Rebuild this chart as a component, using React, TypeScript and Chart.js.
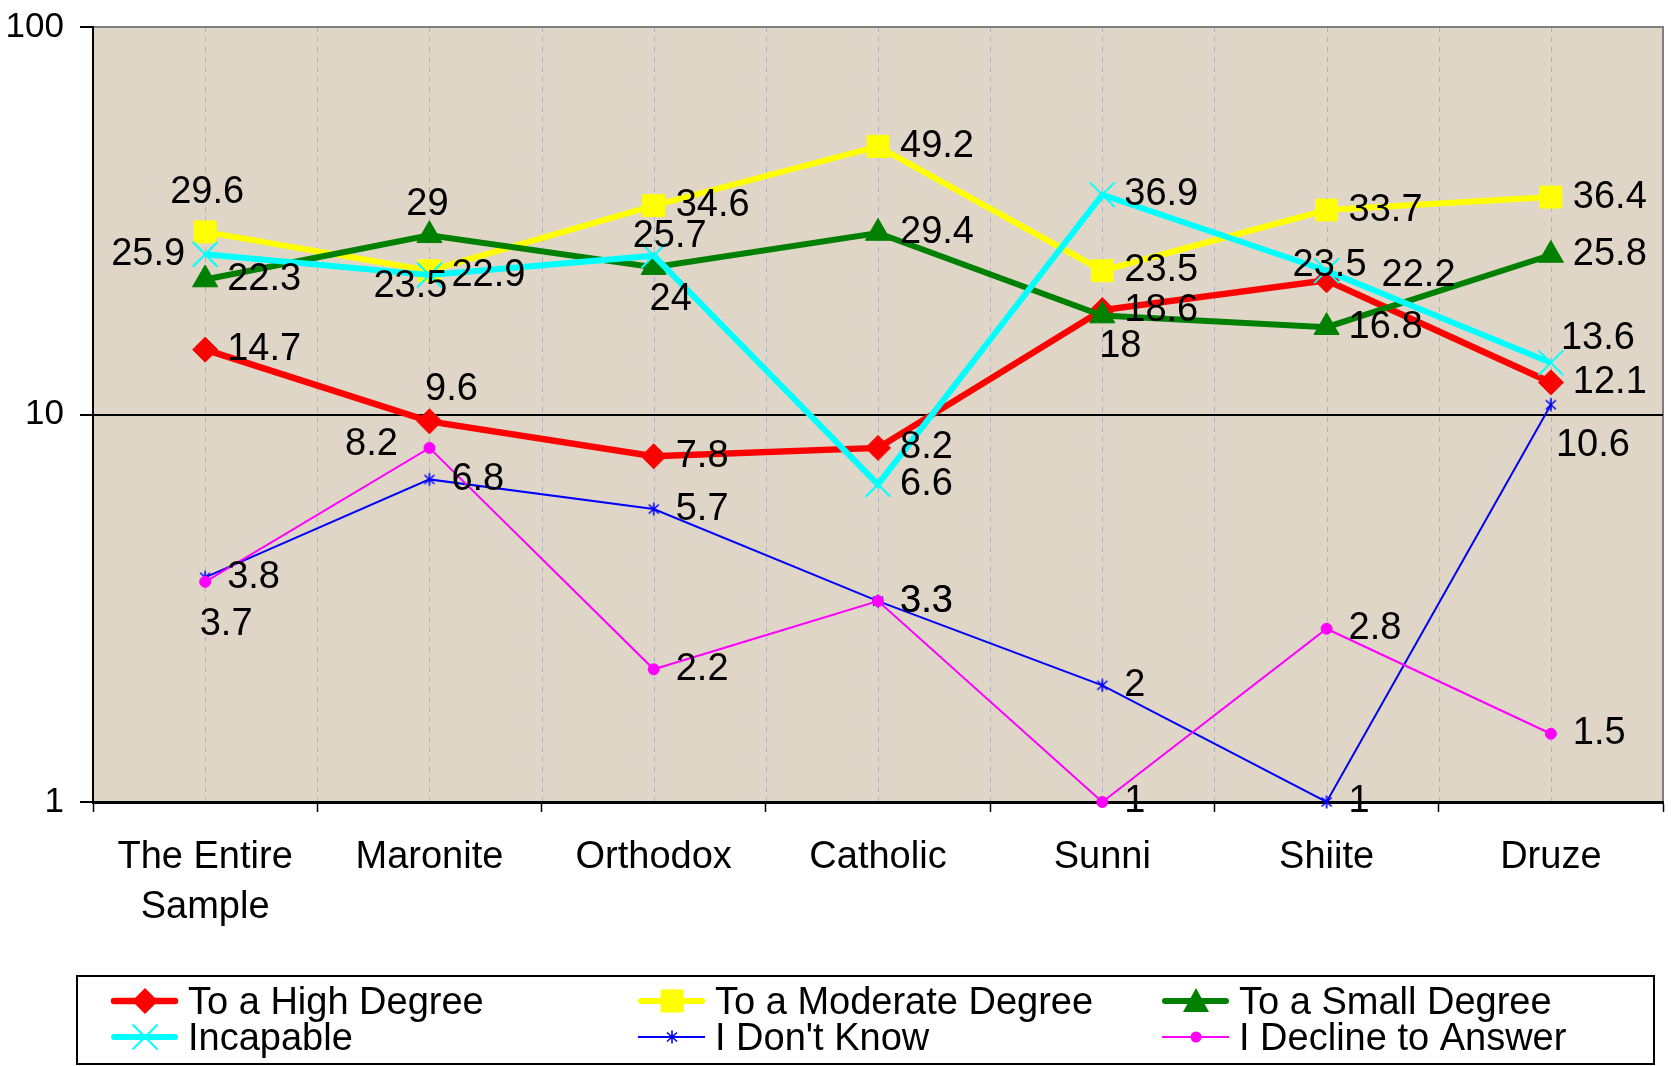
import React, { useEffect, useRef } from 'react';
import { Chart, registerables } from 'chart.js';

Chart.register(...registerables);

// ---------- data ----------
const categories: (string | string[])[] = [['The Entire', 'Sample'], 'Maronite', 'Orthodox', 'Catholic', 'Sunni', 'Shiite', 'Druze'];
const seriesNames = ['To a High Degree', 'To a Moderate Degree', 'To a Small Degree', 'Incapable', "I Don't Know", 'I Decline to Answer'];
const highDegree = [14.7, 9.6, 7.8, 8.2, 18.6, 22.2, 12.1];
const moderateDegree = [29.6, 23.5, 34.6, 49.2, 23.5, 33.7, 36.4];
const smallDegree = [22.3, 29, 24, 29.4, 18, 16.8, 25.8];
const incapable = [25.9, 22.9, 25.7, 6.6, 36.9, 23.5, 13.6];
const dontKnow = [3.8, 6.8, 5.7, 3.3, 2, 1, 10.6];
const declineAnswer = [3.7, 8.2, 2.2, 3.3, 1, 2.8, 1.5];
const yTicks = [1, 10, 100];

// ---------- label placement (style, not data) ----------
type Place = 'r' | 'l' | [number, number];
const highLabelPos: Place[] = ['r', [22, -32], 'r', 'r', 'r', [92, -5], 'r'];
const moderateLabelPos: Place[] = [[2, -39], [-19, 16], 'r', 'r', 'r', 'r', 'r'];
const smallLabelPos: Place[] = ['r', [-2, -31], [17, 32], 'r', [18, 31], 'r', 'r'];
const incapableLabelPos: Place[] = ['l', 'r', [16, -19], 'r', 'r', [3, -5], [47, -24]];
const dontKnowLabelPos: Place[] = ['r', 'r', 'r', 'r', 'r', 'r', [42, 41]];
const declineLabelPos: Place[] = [[21, 43], [-58, -3], 'r', 'r', 'r', 'r', 'r'];

const FONT = "'Liberation Sans', Arial, Helvetica, sans-serif";

function makeAsterisk(color: string): HTMLCanvasElement {
  const c = document.createElement('canvas');
  c.width = 16;
  c.height = 16;
  const g = c.getContext('2d')!;
  g.strokeStyle = color;
  g.lineWidth = 1.6;
  g.beginPath();
  g.moveTo(8, 1.5); g.lineTo(8, 14.5);
  g.moveTo(3, 3.5); g.lineTo(13, 12.5);
  g.moveTo(13, 3.5); g.lineTo(3, 12.5);
  g.stroke();
  return c;
}

function drawMarker(ctx: CanvasRenderingContext2D, kind: string, x: number, y: number, color: string, img?: HTMLCanvasElement) {
  ctx.save();
  ctx.fillStyle = color;
  ctx.strokeStyle = color;
  ctx.setLineDash([]);
  ctx.beginPath();
  if (kind === 'diamond') {
    const r = 13;
    ctx.moveTo(x, y - r); ctx.lineTo(x + r, y); ctx.lineTo(x, y + r); ctx.lineTo(x - r, y); ctx.closePath();
    ctx.fill();
  } else if (kind === 'square') {
    ctx.fillRect(x - 11.5, y - 11.5, 23, 23);
  } else if (kind === 'triangle') {
    ctx.moveTo(x, y - 13); ctx.lineTo(x + 13, y + 11); ctx.lineTo(x - 13, y + 11); ctx.closePath();
    ctx.fill();
  } else if (kind === 'cross') {
    ctx.lineWidth = 2;
    const r = 12.5;
    ctx.moveTo(x - r, y - r); ctx.lineTo(x + r, y + r);
    ctx.moveTo(x + r, y - r); ctx.lineTo(x - r, y + r);
    ctx.stroke();
  } else if (kind === 'asterisk' && img) {
    ctx.drawImage(img, x - img.width / 2, y - img.height / 2);
  } else if (kind === 'circle') {
    ctx.arc(x, y, 5.5, 0, Math.PI * 2);
    ctx.fill();
  }
  ctx.restore();
}

export default function App() {
  const canvasRef = useRef<HTMLCanvasElement | null>(null);

  useEffect(() => {
    const canvas = canvasRef.current;
    if (!canvas) return;
    const asterisk = makeAsterisk('#0000ff');

    const series = [
      { data: highDegree, color: '#ff0000', width: 6.5, style: 'rectRot', radius: 12.5, marker: 'diamond', pos: highLabelPos },
      { data: moderateDegree, color: '#ffff00', width: 6, style: 'rect', radius: 15.5, marker: 'square', pos: moderateLabelPos },
      { data: smallDegree, color: '#008000', width: 6, style: 'triangle', radius: 14.5, marker: 'triangle', pos: smallLabelPos },
      { data: incapable, color: '#00ffff', width: 6, style: 'crossRot', radius: 17.5, marker: 'cross', pos: incapableLabelPos },
      { data: dontKnow, color: '#0000ff', width: 2, style: asterisk as any, radius: 8, marker: 'asterisk', pos: dontKnowLabelPos },
      { data: declineAnswer, color: '#ff00ff', width: 2, style: 'circle', radius: 5.5, marker: 'circle', pos: declineLabelPos },
    ];

    const bgPlugin = {
      id: 'bgPlugin',
      beforeDraw(chart: any) {
        const { ctx, chartArea: a } = chart;
        ctx.save();
        ctx.fillStyle = '#dfd6c8';
        ctx.fillRect(a.left, a.top, a.right - a.left, a.bottom - a.top);
        const xs = chart.scales.x;
        ctx.strokeStyle = '#aeb1c0';
        ctx.lineWidth = 1;
        ctx.setLineDash([5, 5]);
        const n = categories.length;
        const xsList: number[] = [];
        for (let i = 0; i < n; i++) {
          xsList.push(xs.getPixelForValue(i));
          if (i > 0) xsList.push((xs.getPixelForValue(i - 1) + xs.getPixelForValue(i)) / 2);
        }
        ctx.beginPath();
        for (const px of xsList) {
          ctx.moveTo(Math.round(px) + 0.5, a.top);
          ctx.lineTo(Math.round(px) + 0.5, a.bottom);
        }
        ctx.stroke();
        ctx.setLineDash([]);
        ctx.strokeStyle = '#808080';
        ctx.lineWidth = 2;
        ctx.beginPath();
        ctx.moveTo(a.left, a.top);
        ctx.lineTo(a.right, a.top);
        ctx.lineTo(a.right, a.bottom);
        ctx.stroke();
        ctx.restore();
      },
    };

    const labelPlugin = {
      id: 'labelPlugin',
      afterDatasetsDraw(chart: any) {
        const { ctx } = chart;
        ctx.save();
        ctx.font = `38px ${FONT}`;
        ctx.fillStyle = '#000';
        ctx.textBaseline = 'middle';
        series.forEach((s, i) => {
          const meta = chart.getDatasetMeta(i);
          meta.data.forEach((pt: any, j: number) => {
            const text = String(s.data[j]);
            const p = s.pos[j];
            if (p === 'r') {
              ctx.textAlign = 'left';
              ctx.fillText(text, pt.x + 22, pt.y);
            } else if (p === 'l') {
              ctx.textAlign = 'right';
              ctx.fillText(text, pt.x - 20, pt.y);
            } else {
              ctx.textAlign = 'center';
              ctx.fillText(text, pt.x + p[0], pt.y + p[1]);
            }
          });
        });
        ctx.restore();
      },
    };

    const legendPlugin = {
      id: 'legendPlugin',
      afterDraw(chart: any) {
        const { ctx } = chart;
        ctx.save();
        ctx.strokeStyle = '#000';
        ctx.lineWidth = 2;
        ctx.strokeRect(77, 976, 1577, 88);
        const colX = [111, 638, 1162];
        const rowY = [1001, 1037];
        ctx.font = `38px ${FONT}`;
        ctx.fillStyle = '#000';
        ctx.textBaseline = 'alphabetic';
        ctx.textAlign = 'left';
        series.forEach((s, i) => {
          const x0 = colX[i % 3];
          const y = rowY[Math.floor(i / 3)];
          ctx.save();
          ctx.strokeStyle = s.color;
          ctx.lineWidth = s.width;
          ctx.lineCap = s.width > 3 ? 'round' : 'butt';
          ctx.beginPath();
          ctx.moveTo(x0 + (s.width > 3 ? 3 : 0), y);
          ctx.lineTo(x0 + 67 - (s.width > 3 ? 3 : 0), y);
          ctx.stroke();
          ctx.restore();
          drawMarker(ctx, s.marker, x0 + 34, y, s.color, asterisk);
          ctx.fillStyle = '#000';
          ctx.fillText(seriesNames[i], x0 + 77, y + 13);
        });
        ctx.restore();
      },
    };

    const zeroPad = (s: any) => {
      s.paddingTop = 0;
      s.paddingBottom = 0;
      s.paddingLeft = 0;
      s.paddingRight = 0;
    };

    const chart = new Chart(canvas, {
      type: 'line',
      data: {
        labels: categories as any,
        datasets: series.map((s, i) => ({
          label: seriesNames[i],
          data: s.data,
          borderColor: s.color,
          backgroundColor: s.color,
          borderWidth: s.width,
          pointStyle: s.style,
          pointRadius: s.radius,
          pointHoverRadius: s.radius,
          pointBorderWidth: s.marker === 'cross' ? 2 : 1,
          pointBackgroundColor: s.color,
          pointBorderColor: s.color,
          tension: 0,
          fill: false,
          order: 5 - i,
          clip: false as any,
        })),
      },
      options: {
        responsive: false,
        animation: false,
        devicePixelRatio: 1,
        layout: { autoPadding: false, padding: { top: 27, right: 8, bottom: 0, left: 0 } },
        plugins: {
          legend: { display: false },
          tooltip: { enabled: false },
          title: { display: false },
        },
        scales: {
          x: {
            type: 'category',
            offset: true,
            grid: {
              display: true,
              drawOnChartArea: false,
              drawTicks: true,
              tickLength: 10,
              tickColor: '#000',
              tickWidth: 1.5,
              offset: true,
              color: '#000',
            },
            border: { display: true, color: '#000', width: 3 },
            ticks: {
              color: '#000',
              font: { family: FONT, size: 38, lineHeight: 50 / 38 },
              padding: 21,
              maxRotation: 0,
              autoSkip: false,
            },
            afterFit: (s: any) => { s.height = 264; zeroPad(s); },
          },
          y: {
            type: 'logarithmic',
            min: 1,
            max: 100,
            afterBuildTicks: (s: any) => { s.ticks = yTicks.map((v) => ({ value: v })); },
            grid: {
              color: (c: any) => (c.tick && c.tick.value === 10 ? '#000' : 'rgba(0,0,0,0)'),
              lineWidth: 2,
              tickColor: '#000',
              tickWidth: 2,
              tickLength: 13,
              drawTicks: true,
            },
            border: { display: true, color: '#000', width: 2 },
            ticks: {
              color: '#000',
              font: { family: FONT, size: 35 },
              padding: 16,
              callback: (v: any) => String(v),
            },
            afterFit: (s: any) => { s.width = 93; zeroPad(s); },
          },
        },
      },
      plugins: [bgPlugin, labelPlugin, legendPlugin],
    } as any);

    return () => chart.destroy();
  }, []);

  return (
    <div style={{ position: 'absolute', left: 0, top: 0, width: 1671, height: 1066, background: '#fff' }}>
      <canvas ref={canvasRef} width={1671} height={1066} style={{ display: 'block' }} />
    </div>
  );
}
